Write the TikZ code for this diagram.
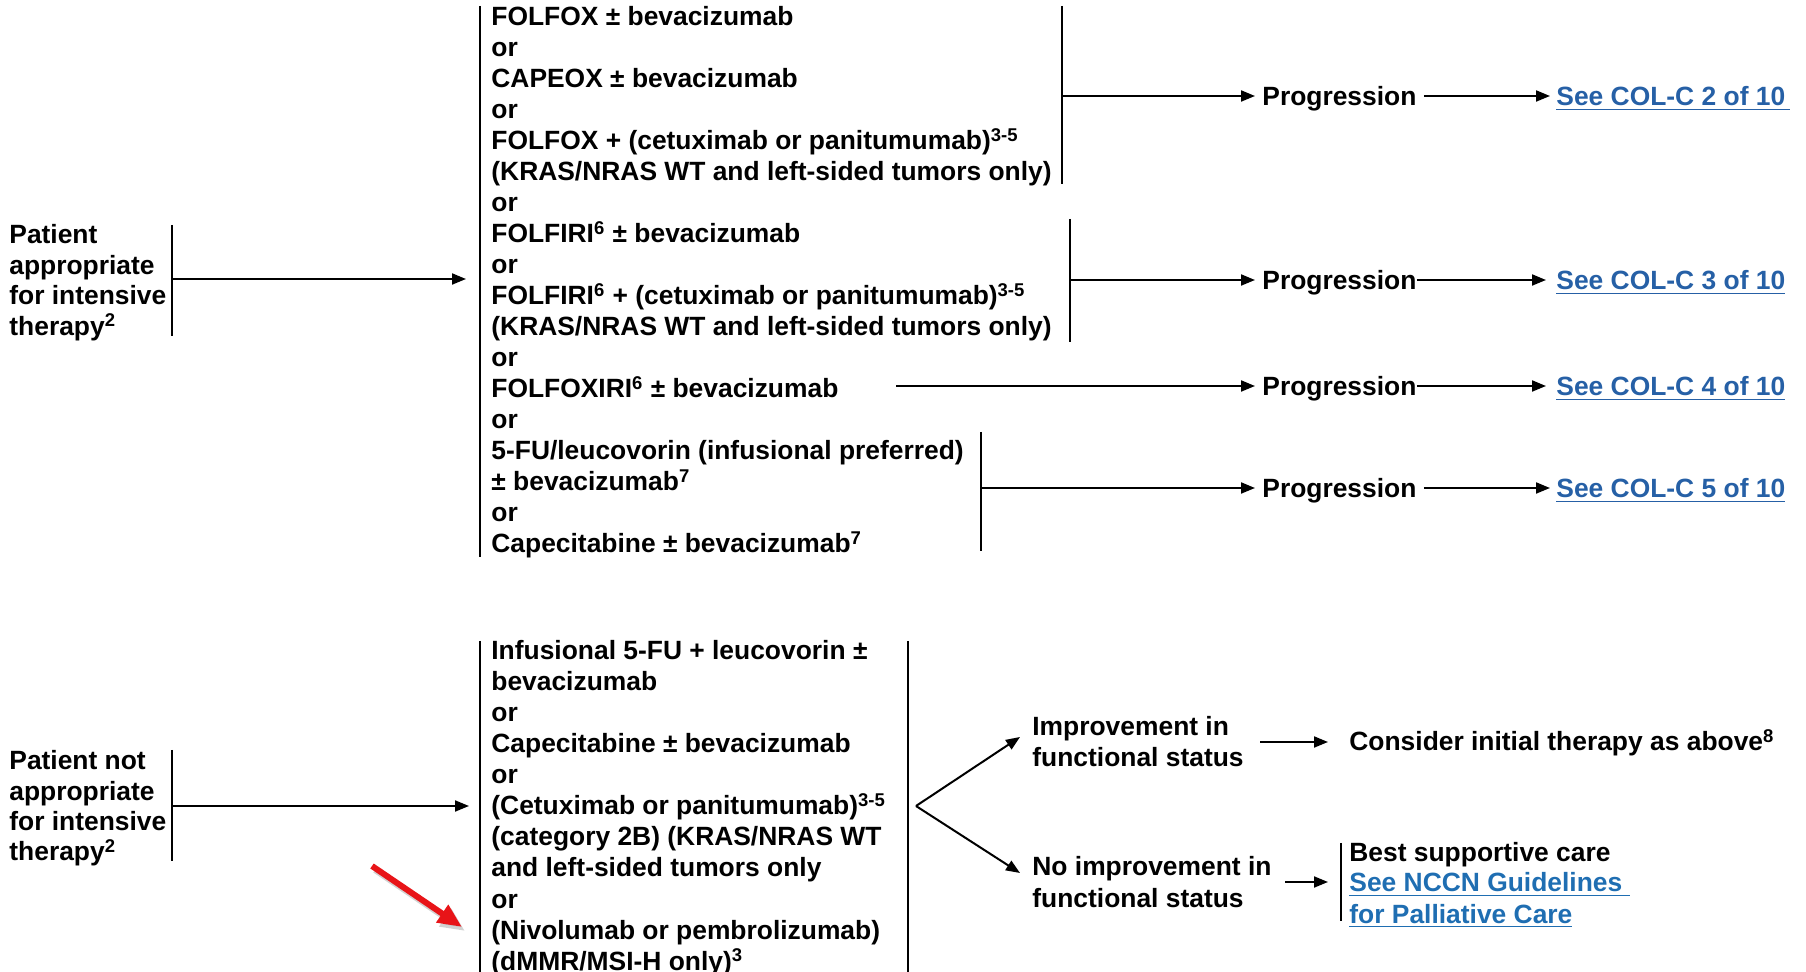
\documentclass[tikz,border=0pt]{standalone}
\usepackage{fontspec}
\setmainfont{Liberation Sans}
\usetikzlibrary{arrows.meta}
\definecolor{linkblue}{RGB}{38,96,166}
\definecolor{linkbluetwo}{RGB}{31,110,178}
\definecolor{redarrow}{RGB}{232,20,24}
\begin{document}
\begin{tikzpicture}[x=0.5pt,y=-0.5pt,
  txt/.style={anchor=base west,inner sep=0pt,font=\fontsize{13.2}{15.5}\selectfont\bfseries},
  prog/.style={txt,inner xsep=3.5pt,inner ysep=0pt},
  link/.style={txt,text=linkblue,inner xsep=3pt,inner ysep=0pt},
  linktwo/.style={txt,text=linkbluetwo},
  ln/.style={line width=1pt},
  arr/.style={line width=1pt,-{Triangle[length=7pt,width=5.5pt]}},
]
\useasboundingbox (0,0) rectangle (1806,972);

% ---------- upper list ----------
\node[txt] (u1)  at (491,26)  {FOLFOX ± bevacizumab};
\node[txt] (u2)  at (491,57)  {or};
\node[txt] (u3)  at (491,88)  {CAPEOX ± bevacizumab};
\node[txt] (u4)  at (491,119) {or};
\node[txt] (u5)  at (491,150) {FOLFOX + (cetuximab or panitumumab)\textsuperscript{3-5}};
\node[txt] (u6)  at (491,181) {(KRAS/NRAS WT and left-sided tumors only)};
\node[txt] (u7)  at (491,212) {or};
\node[txt] (u8)  at (491,243) {FOLFIRI\textsuperscript{6} ± bevacizumab};
\node[txt] (u9)  at (491,274) {or};
\node[txt] (u10) at (491,305) {FOLFIRI\textsuperscript{6} + (cetuximab or panitumumab)\textsuperscript{3-5}};
\node[txt] (u11) at (491,336) {(KRAS/NRAS WT and left-sided tumors only)};
\node[txt] (u12) at (491,367) {or};
\node[txt] (u13) at (491,398) {FOLFOXIRI\textsuperscript{6} ± bevacizumab};
\node[txt] (u14) at (491,429) {or};
\node[txt] (u15) at (491,460) {5-FU/leucovorin (infusional preferred)};
\node[txt] (u16) at (491,491) {± bevacizumab\textsuperscript{7}};
\node[txt] (u17) at (491,522) {or};
\node[txt] (u18) at (491,553) {Capecitabine ± bevacizumab\textsuperscript{7}};

\coordinate (ult) at (480,6);
\coordinate (ulb) at (480,557);
\draw[ln] (ult) -- (ulb);

% left patient block (upper)
\node[txt] (pa1) at (9,244)   {Patient};
\node[txt] (pa2) at (9,274.5) {appropriate};
\node[txt] (pa3) at (9,305)   {for intensive};
\node[txt] (pa4) at (9,335.5) {therapy\textsuperscript{2}};
\coordinate (pat) at (172,225);
\coordinate (pab) at (172,336);
\draw[ln] (pat) -- (pab);
\coordinate (pam) at (172,279);
\coordinate (ulin) at (466,279);
\draw[arr] (pam) -- (ulin);

% progression nodes and links
\node[prog] (p1) at (1255,106) {Progression};
\node[prog] (p2) at (1255,290) {Progression};
\node[prog] (p3) at (1255,396) {Progression};
\node[prog] (p4) at (1255,498) {Progression};
\node[link] (k1) at (1550,106) {\underline{See COL-C 2 of 10\,}};
\node[link] (k2) at (1550,290) {\underline{See COL-C 3 of 10}};
\node[link] (k3) at (1550,396) {\underline{See COL-C 4 of 10}};
\node[link] (k4) at (1550,498) {\underline{See COL-C 5 of 10}};

% brackets
\coordinate (b1t) at (1062,6);   \coordinate (b1b) at (1062,184);
\coordinate (b2t) at (1070,219); \coordinate (b2b) at (1070,342);
\coordinate (b4t) at (981,432);  \coordinate (b4b) at (981,551);
\draw[ln] (b1t) -- (b1b);
\draw[ln] (b2t) -- (b2b);
\draw[ln] (b4t) -- (b4b);
\coordinate (b1) at (1062,96);
\coordinate (b2) at (1070,280);
\coordinate (b3) at (896,386);
\coordinate (b4) at (981,488);
\draw[arr] (b1) -- (b1 -| p1.west);
\draw[arr] (b2) -- (b2 -| p2.west);
\draw[arr] (b3) -- (b3 -| p3.west);
\draw[arr] (b4) -- (b4 -| p4.west);
\draw[arr] (b1 -| p1.east) -- (b1 -| k1.west);
\draw[arr] ([xshift=-3.5pt]b2 -| p2.east) -- ([xshift=-2pt]b2 -| k2.west);
\draw[arr] ([xshift=-3.5pt]b3 -| p3.east) -- ([xshift=-2pt]b3 -| k3.west);
\draw[arr] (b4 -| p4.east) -- (b4 -| k4.west);

% ---------- lower list ----------
\node[txt] (d1)  at (491,660) {Infusional 5-FU + leucovorin ±};
\node[txt] (d2)  at (491,691) {bevacizumab};
\node[txt] (d3)  at (491,722) {or};
\node[txt] (d4)  at (491,753) {Capecitabine ± bevacizumab};
\node[txt] (d5)  at (491,784) {or};
\node[txt] (d6)  at (491,815) {(Cetuximab or panitumumab)\textsuperscript{3-5}};
\node[txt] (d7)  at (491,846) {(category 2B) (KRAS/NRAS WT};
\node[txt] (d8)  at (491,877) {and left-sided tumors only};
\node[txt] (d9)  at (491,908) {or};
\node[txt] (d10) at (491,939) {(Nivolumab or pembrolizumab)};
\node[txt] (d11) at (491,970) {(dMMR/MSI-H only)\textsuperscript{3}};

\coordinate (dlt) at (480,641); \coordinate (dlb) at (480,972);
\coordinate (drt) at (908,641); \coordinate (drb) at (908,972);
\draw[ln] (dlt) -- (dlb);
\draw[ln] (drt) -- (drb);

% left patient block (lower)
\node[txt] (pn1) at (9,770) {Patient not};
\node[txt] (pn2) at (9,801) {appropriate};
\node[txt] (pn3) at (9,831) {for intensive};
\node[txt] (pn4) at (9,861) {therapy\textsuperscript{2}};
\coordinate (pnt) at (172,750);
\coordinate (pnb) at (172,861);
\draw[ln] (pnt) -- (pnb);
\coordinate (pnm) at (172,806);
\coordinate (dlin) at (469,806);
\draw[arr] (pnm) -- (dlin);

% branch
\coordinate (br) at (916,806);
\coordinate (brup) at (1020,737);
\coordinate (brdn) at (1020,873);
\draw[arr] (br) -- (brup);
\draw[arr] (br) -- (brdn);

\node[txt] (im1) at (1032,736) {Improvement in};
\node[txt] (im2) at (1032,767) {functional status};
\node[txt] (ni1) at (1032,876) {No improvement in};
\node[txt] (ni2) at (1032,907) {functional status};

\node[txt] (ci) at (1349,751) {Consider initial therapy as above\textsuperscript{8}};
\coordinate (ima) at (1260,742);
\coordinate (ime) at (1328,742);
\draw[arr] (ima) -- (ime);

\coordinate (nia) at (1285,882);
\coordinate (nie) at (1328,882);
\draw[arr] (nia) -- (nie);
\coordinate (bst) at (1341,843); \coordinate (bsb) at (1341,921);
\draw[ln] (bst) -- (bsb);
\node[txt] (bs1) at (1349,862) {Best supportive care};
\node[linktwo] (bs2) at (1349,892) {\underline{See NCCN Guidelines\ }};
\node[linktwo] (bs3) at (1349,923) {\underline{for Palliative Care}};

% red pointer arrow
\coordinate (rs) at (372,866);
\coordinate (re) at (462,927);
\draw[line width=3pt,black!35,opacity=0.5,-{Triangle[length=12pt,width=10pt]}]
  ([shift={(3,4)}]rs) -- ([shift={(3,4)}]re);
\draw[line width=3pt,redarrow,-{Triangle[length=12pt,width=10pt]}] (rs) -- (re);
\end{tikzpicture}
\end{document}
